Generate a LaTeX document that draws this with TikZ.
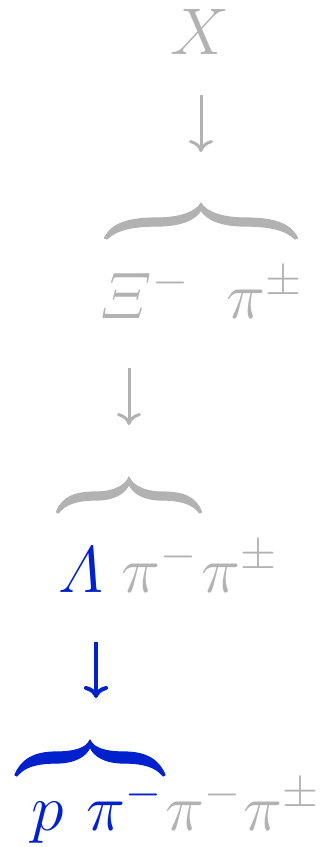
\RequirePackage{fix-cm}
\documentclass[tikz,border=0pt]{standalone}
\usepackage{amsmath}
\usetikzlibrary{arrows.meta}
\definecolor{fadegray}{gray}{0.7}
\definecolor{decayblue}{rgb}{0.0,0.13,0.8}
\tikzset{
  part/.style={
    inner sep=0pt,
    anchor=base west,
    font=\fontsize{33}{40}\selectfont,
    text=fadegray
  },
  live/.style={
    part,
    text=decayblue
  },
  decay/.style={
    -{Computer Modern Rightarrow[length=6pt,width=12pt]},
    line width=1.5pt,
    fadegray
  },
  livedecay/.style={
    decay,
    line width=2pt,
    decayblue
  },
  % tapered brace, tip at the origin; #1 = half width, #2 = arm thickness
  pics/grouping/.style 2 args={code={
    \filldraw[xscale=#1, line width=0.6pt, line join=round]
      (-1,35) .. controls (-0.92,20) and (-0.75,{23-#2}) .. (-0.45,{23-#2})
      .. controls (-0.2,{23-#2}) and (-0.04,8) .. (0,0)
      .. controls (0.04,8) and (0.2,{23-#2}) .. (0.45,{23-#2})
      .. controls (0.75,{23-#2}) and (0.92,20) .. (1,35)
      -- (0.975,36) .. controls (0.88,27) and (0.72,23) .. (0.45,23)
      .. controls (0.2,23) and (0.05,16) .. (0,7)
      .. controls (-0.05,16) and (-0.2,23) .. (-0.45,23)
      .. controls (-0.72,23) and (-0.88,27) .. (-0.975,36) -- cycle;
  }}
}

\begin{document}
\begin{tikzpicture}[x=0.5pt, y=-0.5pt]
\useasboundingbox (0,0) rectangle (321,847);
% X -> Xi pi
\node[part, anchor=base] (X) at (200,54) {$X$};
\coordinate (a1) at (201,152);
\pic[fadegray] (b1) at (201,203) {grouping={96.5}{8}};
\node[part] (xi) at (99,318) {$\varXi^-$};
\node[part] (pipm1) at (226,318) {$\pi^\pm$};
% Xi -> Lambda pi
\coordinate (a2) at (129,425);
\pic[fadegray] (b2) at (129,477) {grouping={72.5}{8}};
\node[live] (lam) at (58,592) {$\varLambda$};
\node[part] (pim1) at (121,592) {$\pi^-$};
\node[part] (pipm2) at (201,592) {$\pi^\pm$};
% Lambda -> p pi
\coordinate (a3) at (96,698);
\pic[decayblue] (b3) at (90,740) {grouping={75}{11}};
\node[live] (p) at (31,830) {$p$};
\node[live] (pim2) at (86,830) {$\pi^-$};
\node[part] (pim3) at (165,830) {$\pi^-$};
\node[part] (pipm3) at (243,830) {$\pi^\pm$};

\draw[decay, shorten <=20.5pt] (X.south -| a1) -- (a1);
\draw[decay, shorten <=25pt] (xi.south -| a2) -- (a2);
\draw[livedecay, shorten <=25pt] (lam.south -| a3) -- (a3);
\end{tikzpicture}
\end{document}
